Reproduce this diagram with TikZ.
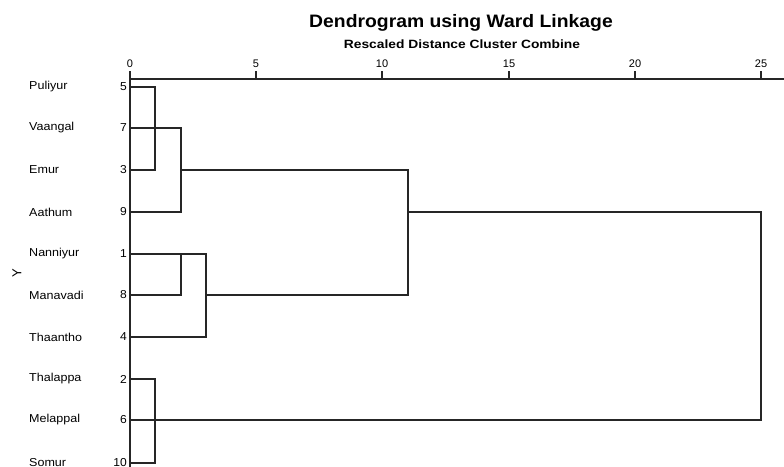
\documentclass[tikz,border=0pt]{standalone}
\usepackage{graphicx}
\usepackage{fontspec}
\setmainfont{Liberation Sans}
\begin{document}
\begin{tikzpicture}[x=1pt,y=-1pt,
  ln/.style={line width=1.3pt,draw=black!85,line cap=rect},
  leaf/.style={anchor=west,inner sep=0pt,font=\fontsize{11.5}{12}\selectfont},
  num/.style={anchor=east,inner sep=0pt,font=\fontsize{11.5}{12}\selectfont},
  tick/.style={anchor=south,inner sep=0pt,font=\fontsize{11}{12}\selectfont}]
\useasboundingbox (0,0) rectangle (784,466);
\fill[white] (0,0) rectangle (784,466);
% titles
\node[font=\bfseries\fontsize{18}{20}\selectfont,inner sep=0pt] (title) at (461,23) {\scalebox{1.075}[1]{Dendrogram using Ward Linkage}};
\node[font=\bfseries\fontsize{12}{14}\selectfont,inner sep=0pt] (sub) at (462,44) {\scalebox{1.15}[1]{Rescaled Distance Cluster Combine}};
\node[rotate=90,inner sep=0pt,font=\fontsize{13}{14}\selectfont] (ylab) at (17,273) {Y};
% axis
\coordinate (a0) at (130,79);
\coordinate (aend) at (784,79);
\draw[ln] (a0) -- (aend);
\foreach \v/\x in {0/130,5/256,10/382,15/509,20/635,25/761}{
  \coordinate (t\v) at (\x,79);
  \draw[ln] (t\v) -- ++(0,-7);
  \node[tick] (tl\v) at (\x,68) {\v};
}
% leaves
\foreach \n/\lab/\y in {5/Puliyur/87,7/Vaangal/128,3/Emur/170,9/Aathum/212,1/Nanniyur/254,8/Manavadi/295,4/Thaantho/337,2/Thalappa/379,6/Melappal/420,10/Somur/463}{
  \coordinate (L\n) at (130,\y);
  \node[leaf] (name\n) at (29,\y) {\scalebox{1.09}[1]{\lab}};
  \node[num] (num\n) at (127,\y) {\scalebox{1.05}[1]{\n}};
}
\coordinate (bot) at (130,470);
\draw[ln] (a0) -- (bot);
% merge coordinates
\coordinate (m53a) at (155,87);
\coordinate (m53b) at (155,170);
\coordinate (m7a) at (181,128);
\coordinate (m7b) at (181,212);
\coordinate (m7c) at (181,170);
\coordinate (m18a) at (181,254);
\coordinate (m18b) at (181,295);
\coordinate (m4a) at (206,254);
\coordinate (m4b) at (206,337);
\coordinate (m4c) at (206,295);
\coordinate (mAa) at (408,170);
\coordinate (mAb) at (408,295);
\coordinate (mAc) at (408,212);
\coordinate (mBa) at (761,212);
\coordinate (mBb) at (761,420);
\coordinate (m2a) at (155,379);
\coordinate (m2b) at (155,463);
% cluster 5,3,7,9
\draw[ln] (L5) -- (m53a) -- (m53b) -- (L3);
\draw[ln] (L7) -- (m7a) -- (m7b) -- (L9);
\draw[ln] (m7c) -- (mAa);
% cluster 1,8,4
\draw[ln] (L1) -- (m4a) -- (m4b) -- (L4);
\draw[ln] (L8) -- (m18b) -- (m18a);
\draw[ln] (m4c) -- (mAb);
\draw[ln] (mAa) -- (mAb);
% top join
\draw[ln] (mAc) -- (mBa) -- (mBb) -- (L6);
% cluster 2,6,10
\draw[ln] (L2) -- (m2a) -- (m2b) -- (L10);
\end{tikzpicture}
\end{document}
